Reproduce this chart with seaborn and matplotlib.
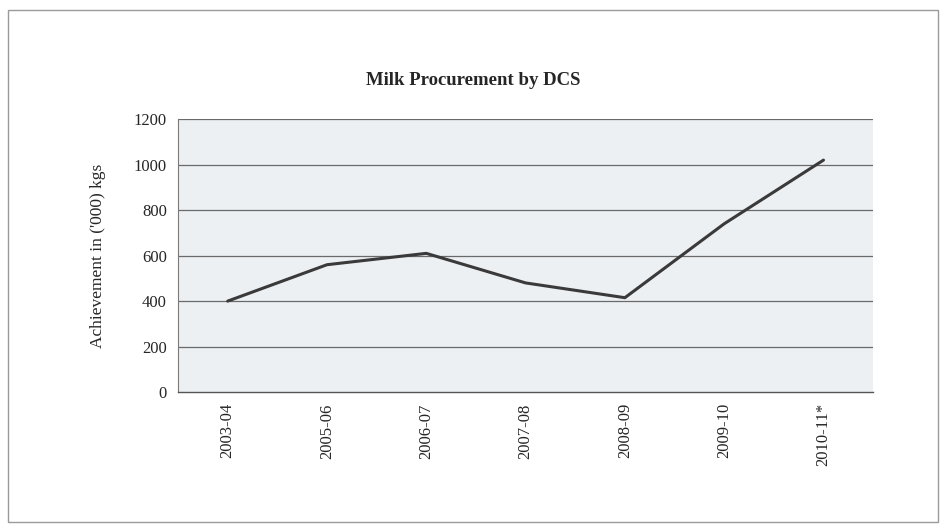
import matplotlib
matplotlib.use("Agg")
import matplotlib.pyplot as plt
from matplotlib.patches import Rectangle
import numpy as np
import pandas as pd
import seaborn as sns

years = ["2003-04", "2005-06", "2006-07", "2007-08", "2008-09", "2009-10", "2010-11*"]
achievement = [400, 560, 610, 480, 415, 740, 1020]
y_ticks = [0, 200, 400, 600, 800, 1000, 1200]

df = pd.DataFrame({"year": years, "value": achievement})

sns.set_style("white")
plt.rcParams["font.family"] = ["Liberation Serif", "DejaVu Serif"]

fig = plt.figure(figsize=(9.47, 5.32), dpi=100)
fig.patch.set_facecolor("white")
fig.patches.append(Rectangle((8 / 947, 10 / 532), 930 / 947, 512 / 532, transform=fig.transFigure,
                             fill=False, edgecolor="#9a9a9a", linewidth=1.0))

ax = fig.add_axes([0.188, 0.263, 0.734, 0.513])
ax.set_facecolor("#edf0f3")

sns.lineplot(data=df, x="year", y="value", ax=ax, color="#3a3a3a", linewidth=2.2, sort=False)

ax.set_ylim(0, 1200)
ax.set_yticks(y_ticks)
ax.set_yticklabels([str(v) for v in y_ticks], fontsize=12)
ax.set_xlim(-0.5, len(years) - 0.5)
ax.set_xticks(np.arange(len(years)))
ax.set_xticklabels(years, rotation=90, fontsize=12)
ax.tick_params(axis="x", which="major", length=0, pad=8)
ax.set_xticks(np.arange(len(years) + 1) - 0.5, minor=True)
ax.tick_params(axis="x", which="minor", length=4, color="#555555")
ax.tick_params(axis="y", length=4, color="#555555", pad=4)

for v in y_ticks[1:]:
    ax.axhline(v, color="#6a6a6a", linewidth=0.9, zorder=1)

for s in ["top", "right"]:
    ax.spines[s].set_visible(False)
ax.spines["left"].set_color("#7a7a7a")
ax.spines["bottom"].set_color("#555555")
ax.spines["left"].set_linewidth(0.8)
ax.spines["bottom"].set_linewidth(1.0)

ax.set_xlabel("")
ax.set_ylabel("Achievement in ('000) kgs", fontsize=12.5, labelpad=20)

fig.text(0.5, 0.848, "Milk Procurement by DCS", ha="center", va="center",
         fontsize=13.5, fontweight="bold")

fig.savefig("out.png", dpi=100)
